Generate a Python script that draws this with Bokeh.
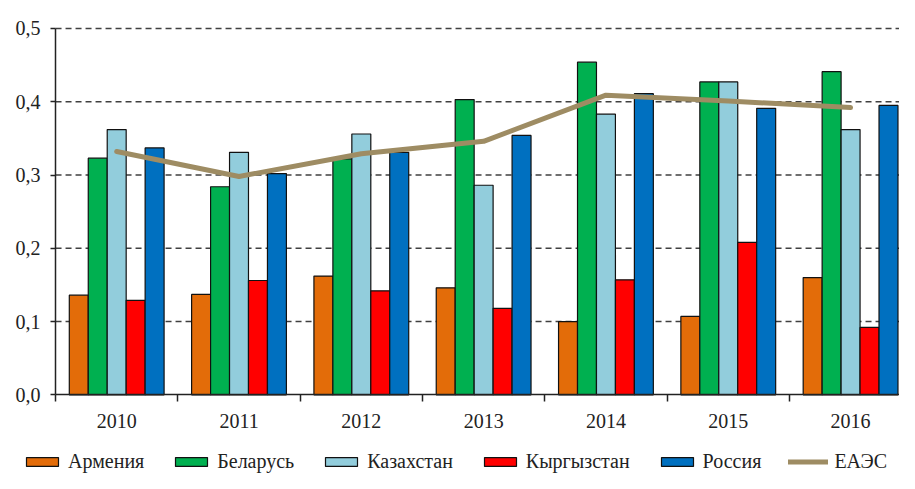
from bokeh.plotting import figure
from bokeh.models import ColumnDataSource, FixedTicker, Legend, LegendItem, Range1d, CustomJSTickFormatter
from bokeh.transform import dodge
from bokeh.embed import file_html
from bokeh.resources import INLINE

years = ["2010", "2011", "2012", "2013", "2014", "2015", "2016"]
countries = ["Армения", "Беларусь", "Казахстан", "Кыргызстан", "Россия"]
armenia = [0.136, 0.137, 0.162, 0.146, 0.100, 0.107, 0.160]
belarus = [0.323, 0.284, 0.322, 0.403, 0.454, 0.427, 0.441]
kazakhstan = [0.362, 0.331, 0.356, 0.286, 0.383, 0.427, 0.362]
kyrgyzstan = [0.129, 0.156, 0.142, 0.118, 0.157, 0.208, 0.092]
russia = [0.337, 0.302, 0.331, 0.354, 0.411, 0.391, 0.395]
eaes_label = "ЕАЭС"
eaes = [0.332, 0.298, 0.329, 0.346, 0.409, 0.401, 0.392]
y_ticks = [0.0, 0.1, 0.2, 0.3, 0.4, 0.5]

colors = ["#E36C09", "#00B050", "#92CDDC", "#FF0000", "#0070C0"]
series = [armenia, belarus, kazakhstan, kyrgyzstan, russia]
cols = ["arm", "bel", "kaz", "kgz", "rus"]

data = {"x": list(range(len(years))), "eaes": eaes}
for c, s in zip(cols, series):
    data[c] = s
src = ColumnDataSource(data)

FONT = "Liberation Serif"
X0, X1 = -0.5, 6.4

p = figure(width=899, height=473, x_range=Range1d(-0.95, X1), y_range=Range1d(-0.1074, 0.5382),
           output_backend="svg", toolbar_location=None, title=None,
           min_border_left=0, min_border_top=0, min_border_right=0, min_border_bottom=0)
p.outline_line_color = None
p.background_fill_color = "white"

# dashed grid lines
grid_src = ColumnDataSource({"y": y_ticks[1:], "x0": [X0] * 5, "x1": [X1] * 5})
p.segment(x0="x0", x1="x1", y0="y", y1="y", source=grid_src,
          line_color="#404040", line_dash="6 4", line_width=1.4)

bw = 0.155
offsets = [-2 * bw, -bw, 0, bw, 2 * bw]
renderers = []
for c, col, off in zip(colors, cols, offsets):
    r = p.vbar(x=dodge("x", off), top=col, width=bw, source=src,
               fill_color=c, line_color="#111111", line_width=1.2)
    renderers.append(r)

lr = p.line("x", "eaes", source=src, line_color="#9E8C63", line_width=5, line_cap="round")

p.xgrid.grid_line_color = None
p.ygrid.grid_line_color = None

# x axis
xa = p.xaxis[0]
xa.fixed_location = 0
xa.bounds = (X0, X1)
xa.ticker = FixedTicker(ticks=list(range(len(years))),
                        minor_ticks=[i + 0.5 for i in range(-1, len(years))])
xa.major_label_overrides = {i: y for i, y in enumerate(years)}
xa.major_tick_out = 0
xa.major_tick_in = 0
xa.minor_tick_out = 7
xa.minor_tick_in = 0
xa.minor_tick_line_color = "#222222"
xa.minor_tick_line_width = 1.5
xa.axis_line_color = "#222222"
xa.axis_line_width = 1.5
xa.major_label_standoff = 12
xa.major_label_text_font = FONT
xa.major_label_text_font_size = "20px"
xa.major_label_text_color = "#222222"

# y axis
ya = p.yaxis[0]
ya.fixed_location = X0
ya.bounds = (0, 0.5)
ya.ticker = FixedTicker(ticks=y_ticks, minor_ticks=[])
ya.formatter = CustomJSTickFormatter(code="return tick.toFixed(1).replace('.', ',');")
ya.major_tick_out = 5
ya.major_tick_in = 0
ya.major_tick_line_color = "#222222"
ya.major_tick_line_width = 1.5
ya.axis_line_color = "#222222"
ya.axis_line_width = 1.5
ya.major_label_standoff = 10
ya.major_label_text_font = FONT
ya.major_label_text_font_size = "20px"
ya.major_label_text_color = "#222222"

items = [LegendItem(label=n, renderers=[r]) for n, r in zip(countries, renderers)]
items.append(LegendItem(label=eaes_label, renderers=[lr]))
legend = Legend(items=items, orientation="horizontal", location=(22, 0),
                glyph_width=40, glyph_height=11, label_standoff=6, spacing=27,
                padding=0, margin=0, border_line_alpha=0, background_fill_alpha=0,
                label_text_font=FONT, label_text_font_size="20px",
                label_text_color="#222222", label_height=21)
p.add_layout(legend, "center")

open("out.html", "w").write(file_html(p, INLINE))
